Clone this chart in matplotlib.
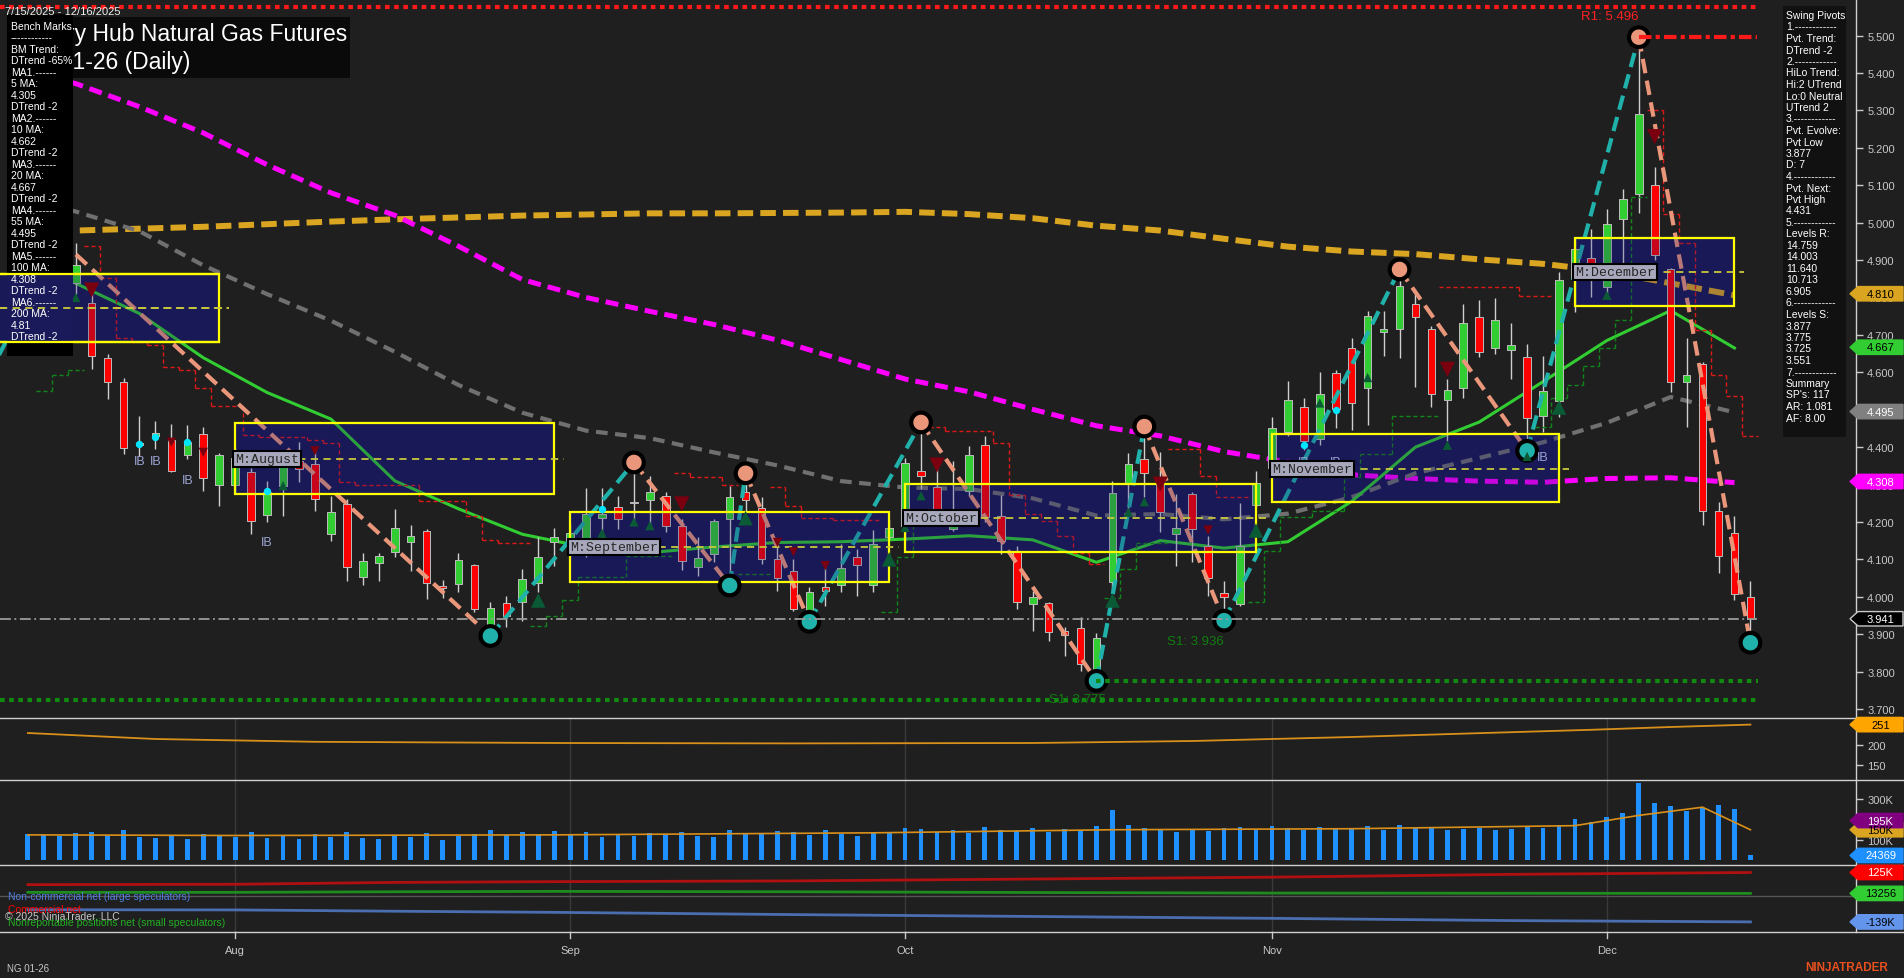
import numpy as np
import pandas as pd
import matplotlib
matplotlib.use("Agg")
import matplotlib.pyplot as plt
from matplotlib.patches import Rectangle, Polygon

plt.rcParams['font.family'] = ['Liberation Sans', 'DejaVu Sans']

# ------------------------------------------------------------------ data
dates = pd.bdate_range("2025-07-15", "2025-12-16", freq="C",
                       holidays=["2025-09-01", "2025-11-27"])
bar_x = np.arange(-3, -3 + len(dates))

opens = [4.700, 4.780, 4.880,
         4.839, 4.785, 4.637, 4.573, 4.405, 4.430, 4.420, 4.379, 4.435, 4.299,
         4.300, 4.334, 4.218, 4.297, 4.364, 4.355, 4.168, 4.248, 4.054, 4.090,
         4.120, 4.147, 4.175, 4.028, 4.034, 4.085, 3.922, 3.982, 3.987, 4.037,
         4.145, 4.135, 4.150, 4.210, 4.239, 4.250, 4.259, 4.268, 4.190, 4.079,
         4.114, 4.208, 4.279, 4.236, 4.101, 4.070, 3.965, 4.025, 4.031, 4.105,
         4.031, 4.159, 4.190, 4.337, 4.292, 4.181, 4.283, 4.406, 4.217, 4.119,
         3.980, 3.982, 3.909, 3.915, 3.807, 4.040, 4.301, 4.368, 4.319, 4.168,
         4.274, 4.136, 4.009, 3.980, 4.245, 4.345, 4.440, 4.506, 4.422, 4.598,
         4.665, 4.557, 4.709, 4.717, 4.783, 4.715, 4.526, 4.557, 4.748, 4.665,
         4.659, 4.640, 4.482, 4.524, 4.850, 4.905, 4.827, 5.009, 5.076, 5.101,
         4.875, 4.575, 4.622, 4.229, 4.170, 4.000]
highs = [4.800, 4.900, 4.955,
         4.946, 4.820, 4.649, 4.584, 4.484, 4.471, 4.462, 4.459, 4.455, 4.384,
         4.400, 4.343, 4.310, 4.364, 4.413, 4.395, 4.270, 4.261, 4.118, 4.118,
         4.234, 4.192, 4.181, 4.045, 4.117, 4.087, 3.985, 4.003, 4.074, 4.159,
         4.183, 4.195, 4.290, 4.290, 4.270, 4.359, 4.324, 4.279, 4.208, 4.159,
         4.209, 4.297, 4.328, 4.266, 4.150, 4.101, 4.027, 4.087, 4.141, 4.127,
         4.179, 4.204, 4.370, 4.466, 4.361, 4.364, 4.404, 4.429, 4.272, 4.136,
         4.016, 3.985, 3.918, 3.945, 3.903, 4.310, 4.384, 4.455, 4.386, 4.275,
         4.279, 4.161, 4.043, 4.250, 4.337, 4.480, 4.578, 4.532, 4.600, 4.605,
         4.693, 4.763, 4.763, 4.875, 4.816, 4.724, 4.583, 4.783, 4.792, 4.798,
         4.733, 4.675, 4.643, 4.868, 4.960, 4.984, 5.037, 5.089, 5.496, 5.150,
         4.880, 4.692, 4.628, 4.254, 4.217, 4.041]
lows = [4.660, 4.760, 4.820,
        4.809, 4.609, 4.529, 4.381, 4.377, 4.395, 4.333, 4.368, 4.283, 4.242,
        4.280, 4.168, 4.199, 4.215, 4.306, 4.230, 4.150, 4.043, 4.031, 4.043,
        4.105, 4.070, 3.994, 3.996, 4.012, 3.958, 3.895, 3.918, 3.936, 4.012,
        4.083, 4.110, 4.105, 4.115, 4.181, 4.200, 4.181, 4.172, 4.072, 4.056,
        4.092, 4.034, 4.226, 4.087, 4.016, 3.963, 3.933, 3.976, 4.012, 4.001,
        4.013, 4.154, 4.150, 4.288, 4.190, 4.177, 4.270, 4.199, 4.114, 3.967,
        3.909, 3.882, 3.842, 3.802, 3.775, 4.016, 4.225, 4.266, 4.172, 4.083,
        4.092, 4.003, 3.936, 3.976, 4.239, 4.337, 4.430, 4.392, 4.405, 4.452,
        4.446, 4.458, 4.643, 4.637, 4.560, 4.506, 4.416, 4.532, 4.640, 4.649,
        4.583, 4.390, 4.440, 4.480, 4.760, 4.800, 4.800, 4.862, 5.027, 4.900,
        4.548, 4.454, 4.193, 4.064, 3.990, 3.877]
closes = [4.780, 4.880, 4.840,
          4.887, 4.644, 4.573, 4.397, 4.412, 4.437, 4.337, 4.413, 4.317, 4.379,
          4.370, 4.202, 4.279, 4.355, 4.341, 4.261, 4.226, 4.079, 4.096, 4.110,
          4.185, 4.161, 4.036, 4.023, 4.098, 3.967, 3.969, 3.949, 4.047, 4.105,
          4.159, 4.170, 4.221, 4.222, 4.209, 4.253, 4.279, 4.190, 4.096, 4.103,
          4.203, 4.266, 4.259, 4.101, 4.050, 3.967, 4.013, 4.014, 4.076, 4.085,
          4.141, 4.183, 4.357, 4.322, 4.199, 4.208, 4.379, 4.212, 4.150, 3.985,
          3.998, 3.906, 3.898, 3.820, 3.889, 4.277, 4.355, 4.331, 4.226, 4.185,
          4.181, 4.049, 3.998, 4.136, 4.304, 4.450, 4.526, 4.416, 4.542, 4.502,
          4.518, 4.751, 4.715, 4.831, 4.748, 4.542, 4.554, 4.733, 4.655, 4.741,
          4.673, 4.478, 4.550, 4.848, 4.930, 4.849, 4.996, 5.064, 5.291, 4.913,
          4.573, 4.594, 4.229, 4.110, 4.008, 3.941]
volume_k = [130, 125, 120,
            135, 140, 120, 150, 115, 110, 125, 105, 130, 120,
            115, 140, 110, 120, 105, 130, 115, 140, 110, 105, 120, 115, 135, 100,
            120, 130, 150, 125, 140, 130, 145,
            125, 140, 115, 130, 120, 135, 125, 140, 120, 115, 150, 135, 130, 145,
            140, 125, 150, 130, 120, 140, 135,
            160, 155, 140, 150, 135, 165, 150, 145, 160, 140, 155, 150, 170, 245,
            175, 160, 150, 140, 155, 145, 160, 165, 150,
            170, 160, 150, 165, 155, 160, 170, 150, 175, 160, 165, 150, 155, 160,
            150, 155, 170, 160, 175,
            200, 190, 210, 230, 378, 280, 265, 240, 255, 270, 250, 24.369]

# x-axis month labels as placed on the chart (bar positions)
month_label_x = [10, 31, 52, 75, 96]
month_labels = ["Aug", "Sep", "Oct", "Nov", "Dec"]

# moving averages read at every 4th bar
ma_idx = list(range(-4, 105, 4))
ma200 = [4.965, 4.979, 4.984, 4.989, 4.996, 5.003, 5.009, 5.014, 5.019, 5.022,
         5.025, 5.025, 5.026, 5.027, 5.029, 5.023, 5.012, 4.992, 4.979, 4.957,
         4.936, 4.923, 4.916, 4.902, 4.890, 4.870, 4.838, 4.806]
ma100 = [5.410, 5.372, 5.310, 5.240, 5.155, 5.080, 5.020, 4.937, 4.848, 4.800,
         4.763, 4.728, 4.686, 4.634, 4.582, 4.548, 4.501, 4.457, 4.430, 4.388,
         4.360, 4.326, 4.316, 4.309, 4.306, 4.316, 4.318, 4.305]
ma55 = [5.070, 5.030, 4.977, 4.886, 4.809, 4.738, 4.655, 4.566, 4.492, 4.444,
        4.424, 4.386, 4.351, 4.309, 4.292, 4.288, 4.263, 4.217, 4.221, 4.207,
        4.222, 4.266, 4.330, 4.371, 4.413, 4.465, 4.534, 4.493]
ma20 = [np.nan, 4.838, 4.757, 4.639, 4.546, 4.475, 4.310, 4.235, 4.167, 4.132,
        4.118, 4.133, 4.145, 4.147, 4.154, 4.163, 4.152, 4.092, 4.150, 4.130,
        4.147, 4.255, 4.400, 4.467, 4.575, 4.685, 4.765, 4.665]

# swing pivots
piv_idx = [-6, -1, 26, 35, 41, 42, 46, 53, 64, 67, 72, 83, 91, 98, 105]
piv_val = [4.550, 4.955, 3.895, 4.359, 4.030, 4.330, 3.933, 4.466, 3.775,
           4.455, 3.936, 4.875, 4.390, 5.496, 3.877]

# monthly boxes
box_names = ["M:July", "M:August", "M:September", "M:October", "M:November", "M:December"]
box_first = [-10, 10, 31, 52, 75, 94]
box_last = [9, 30, 51, 74, 93, 104]
box_top = [4.863, 4.464, 4.226, 4.301, 4.434, 4.960]
box_bot = [4.680, 4.275, 4.038, 4.120, 4.252, 4.778]
box_mid = [4.772, 4.368, 4.134, 4.210, 4.341, 4.868]

# trailing stop steps (first bar, last bar, level)
red_from = [1, 2, 3, 4, 5, 6, 7, 8, 9, 11, 12, 15, 16, 17, 18, 22, 25, 26, 27,
            38, 39, 41, 44, 45, 46, 48, 54, 55, 58, 59, 60, 61, 62, 63, 64,
            69, 71, 72, 86, 91, 99, 100, 101, 102, 103, 104, 105]
red_to = [1, 2, 3, 4, 5, 6, 7, 8, 10, 11, 14, 15, 16, 17, 21, 24, 25, 26, 28,
          38, 40, 41, 44, 45, 47, 50, 54, 57, 58, 59, 60, 61, 62, 63, 64,
          70, 71, 73, 90, 92, 99, 100, 101, 102, 103, 104, 105]
red_lvl = [4.937, 4.851, 4.691, 4.680, 4.673, 4.613, 4.607, 4.557, 4.511, 4.432,
           4.428, 4.420, 4.410, 4.308, 4.299, 4.257, 4.215, 4.152, 4.144,
           4.330, 4.319, 4.299, 4.292, 4.242, 4.210, 4.206, 4.453, 4.444, 4.410,
           4.272, 4.221, 4.203, 4.161, 4.117, 4.087, 4.395, 4.324, 4.266,
           4.828, 4.804, 5.300, 5.024, 4.945, 4.712, 4.594, 4.536, 4.429]
grn_from = [-2, -1, 0, 29, 30, 31, 32, 35, 42, 51, 52, 53, 65, 66, 67, 74, 75,
            76, 78, 80, 81, 83, 92, 93, 94, 95, 96, 97, 98]
grn_to = [-2, -1, 0, 29, 30, 31, 34, 37, 43, 51, 52, 53, 65, 66, 68, 74, 75,
          77, 79, 80, 82, 85, 92, 93, 94, 95, 96, 97, 98]
grn_lvl = [4.549, 4.594, 4.607, 3.921, 3.948, 3.990, 4.054, 4.110, 4.062, 3.960,
           4.105, 4.199, 3.996, 4.074, 4.143, 3.987, 4.121, 4.213, 4.229, 4.321,
           4.381, 4.482, 4.455, 4.530, 4.566, 4.618, 4.665, 4.739, 5.068]

tri_up_idx = [0, 13, 29, 33, 35, 36, 42, 51, 52, 53, 65, 66, 67, 74, 78, 81, 86, 91, 93, 96]
tri_up_val = [4.800, 4.297, 3.990, 4.170, 4.200, 4.190, 4.210, 4.100, 4.185, 4.270,
              3.990, 4.226, 4.254, 4.177, 4.518, 4.586, 4.405, 4.375, 4.506, 4.806]
tri_up_big = [0, 0, 1, 0, 0, 0, 1, 1, 0, 0, 1, 0, 0, 1, 0, 0, 0, 0, 1, 0]
tri_dn_idx = [1, 6, 8, 15, 38, 44, 45, 47, 54, 68, 71, 86, 99]
tri_dn_val = [4.820, 4.413, 4.386, 4.390, 4.248, 4.145, 4.120, 4.083, 4.352, 4.301,
              4.178, 4.608, 5.230]
tri_dn_big = [1, 0, 0, 0, 1, 0, 0, 0, 1, 1, 0, 1, 1]
ib_idx = [4, 5, 7, 12, 77, 79, 92]
ib_val = [4.379, 4.379, 4.328, 4.161, 4.375, 4.375, 4.390]
dot_idx = [4, 5, 7, 12, 33, 77, 79]
dot_val = [4.407, 4.428, 4.413, 4.283, 4.234, 4.406, 4.498]

level_top = 5.577
level_r1 = 5.496
level_s1 = 3.775
level_s2 = 3.725
last_price = 3.941

ind_idx = [-3, 5, 15, 30, 45, 60, 70, 80, 90, 95, 100, 105]
ind_val = [230, 215, 208, 205, 204, 205, 210, 220, 232, 238, 245, 251]
vma_idx = [-3, 10, 30, 50, 65, 80, 94, 98, 102, 105]
vma_val = [125, 122, 125, 135, 150, 155, 170, 220, 260, 150]
cot_idx = [-3, 10, 20, 30, 45, 60, 75, 90, 105]
cot_comm = [60, 62, 72, 76, 80, 90, 100, 115, 125]
cot_small = [19, 19, 22, 24, 22, 18, 15, 14, 13.256]
cot_large = [-74, -75, -82, -88, -100, -110, -120, -132, -139]

bench_lines = ["Bench Marks", "------------", "BM Trend:", "DTrend -65%", "MA1.------",
               "5 MA:", "4.305", "DTrend -2", "MA2.------", "10 MA:", "4.662", "DTrend -2",
               "MA3.------", "20 MA:", "4.667", "DTrend -2", "MA4.------", "55 MA:", "4.495",
               "DTrend -2", "MA5.------", "100 MA:", "4.308", "DTrend -2", "MA6.------",
               "200 MA:", "4.81", "DTrend -2"]
swing_lines = ["Swing Pivots", "1.------------", "Pvt. Trend:", "DTrend -2", "2.------------",
               "HiLo Trend:", "Hi:2 UTrend", "Lo:0 Neutral", "UTrend 2", "3.------------",
               "Pvt. Evolve:", "Pvt Low", "3.877", "D: 7", "4.------------", "Pvt. Next:",
               "Pvt High", "4.431", "5.------------", "Levels R:", "14.759", "14.003",
               "11.640", "10.713", "6.905", "6.------------", "Levels S:", "3.877", "3.775",
               "3.725", "3.551", "7.------------", "Summary", "SP's: 117", "AR: 1.081",
               "AF: 8.00"]

# ------------------------------------------------------------------ figure
W, H = 1904, 979
BG = "#1f1f1f"
FG = "#c8c8c8"
AX_R = 1856
X_LEFT, X_RIGHT = -4.746, 111.62

fig = plt.figure(figsize=(W / 100, H / 100), dpi=100, facecolor=BG)


def F(x, y):
    return (x / W, 1 - y / H)


def panel(y0, y1):
    a = fig.add_axes([0, 1 - y1 / H, AX_R / W, (y1 - y0) / H])
    a.set_facecolor(BG)
    for s in a.spines.values():
        s.set_visible(False)
    a.set_xlim(X_LEFT, X_RIGHT)
    a.tick_params(axis='x', bottom=False, labelbottom=False)
    a.yaxis.tick_right()
    a.tick_params(axis='y', colors=FG, labelcolor=FG, labelsize=8, length=5,
                  width=1, pad=3, direction='out')
    return a


ax = panel(0, 719)
ax.set_ylim(3.6757, 5.5981)
ticks = np.round(np.arange(3.7, 5.51, 0.1), 1)
ax.set_yticks(ticks)
ax.set_yticklabels([f"{t:.3f}" for t in ticks])

ax2 = panel(719, 781)
ax2.set_ylim(112.5, 267.5)
ax2.set_yticks([150, 200])
ax3 = panel(781, 866)
ax3.set_ylim(-22, 392.7)
ax3.set_yticks([100, 300])
ax3.set_yticklabels(["100K", "300K"])
ax4 = panel(866, 933)
ax4.set_ylim(-193, 165)
ax4.set_yticks([])

o = np.array(opens); hi = np.array(highs); lo = np.array(lows); c = np.array(closes)
up = c >= o

# month boxes (base fill below price)
for i in range(len(box_names)):
    x0, x1 = box_first[i], box_last[i]
    ax.add_patch(Rectangle((x0, box_bot[i]), x1 - x0, box_top[i] - box_bot[i],
                           facecolor="#1a1950", edgecolor="none", zorder=1))

# moving averages
ax.plot(ma_idx, ma200, color="#DAA520", lw=4.3, dashes=(2.6, 1.2), zorder=2.5, solid_capstyle='butt')
ax.plot(ma_idx, ma100, color="#FF00FF", lw=3.6, dashes=(2.6, 1.4), zorder=2.5)
ax.plot(ma_idx, ma55, color="#707070", lw=3.0, dashes=(2.8, 1.8), zorder=2.5)
ax.plot(ma_idx, ma20, color="#32CD32", lw=2.2, zorder=2.5)

# candles
ax.vlines(bar_x, lo, hi, color="#d0d0d0", lw=1, zorder=3)
ax.bar(bar_x, np.maximum(np.abs(c - o), 0.004), bottom=np.minimum(o, c), width=0.48,
       color=["#32CD32" if u else "#FF0000" for u in up], edgecolor="#bdbdbd",
       linewidth=0.7, zorder=4)


def steps(fr, to, lv, col):
    for k in range(len(fr)):
        ax.hlines(lv[k], fr[k] - 0.5, to[k] + 0.5, color=col, lw=1, linestyles=(0, (3, 2)), zorder=3.5)
        if k + 1 < len(fr) and fr[k + 1] == to[k] + 1:
            ax.vlines(to[k] + 0.5, lv[k], lv[k + 1], color=col, lw=1, linestyles=(0, (3, 2)), zorder=3.5)


steps(red_from, red_to, red_lvl, "#e01818")
steps(grn_from, grn_to, grn_lvl, "#12861a")

# zigzag
for k in range(len(piv_idx) - 1):
    col = "#20B2AA" if piv_val[k + 1] > piv_val[k] else "#E9967A"
    ax.plot(piv_idx[k:k + 2], piv_val[k:k + 2], color=col, lw=3, dashes=(3.5, 1.8), zorder=5)

# month boxes overlay + edges
for i in range(len(box_names)):
    x0, x1 = box_first[i], box_last[i]
    ax.add_patch(Rectangle((x0, box_bot[i]), x1 - x0, box_top[i] - box_bot[i],
                           facecolor="#191970", alpha=0.24, edgecolor="none", zorder=6))
    ax.add_patch(Rectangle((x0, box_bot[i]), x1 - x0, box_top[i] - box_bot[i],
                           facecolor="none", edgecolor="#FFFF00", lw=1.6, zorder=6.2))
    ax.plot([x0, x1 + 0.6], [box_mid[i]] * 2, color="#c8c83c", lw=1.3, dashes=(4, 3), zorder=6.3)
    if i > 0:
        ax.text(x0, box_mid[i], box_names[i], family=["Liberation Mono", "DejaVu Sans Mono"],
                fontsize=9.5, color="#262626", ha="left", va="center", zorder=9,
                bbox=dict(boxstyle="square,pad=0.15", facecolor="#a8a8bc", edgecolor="black", lw=1.5))

# pivot circles
pc = ["#20B2AA" if (k > 0 and piv_val[k] < piv_val[k - 1]) else "#E9967A" for k in range(len(piv_idx))]
ax.scatter(piv_idx, piv_val, s=200, c=pc, edgecolors="black", linewidths=3, zorder=7)

# markers
ax.scatter(tri_up_idx, tri_up_val, marker="^", s=[110 if b else 45 for b in tri_up_big],
           color="#0b5a36", zorder=7.5, linewidths=0)
ax.scatter(tri_dn_idx, tri_dn_val, marker="v", s=[120 if b else 45 for b in tri_dn_big],
           color="#7a0010", zorder=7.5, linewidths=0)
ax.scatter(dot_idx, dot_val, s=28, color="#00e5ff", zorder=7.6, linewidths=0)
for xi, yi in zip(ib_idx, ib_val):
    ax.text(xi, yi, "IB", color="#9aa4d0", fontsize=9, ha="center", va="top", zorder=7.6)

# levels
ax.plot([X_LEFT, 105.5], [level_top] * 2, color="#ff1a1a", lw=3, dashes=(1.1, 1.1), zorder=7.4)
ax.plot([98, 105.4], [level_r1] * 2, color="#ff1a1a", lw=3, dashes=(3, 1, 1, 1), zorder=7.4)
ax.plot([64, 105.5], [level_s1] * 2, color="#118a11", lw=3, dashes=(1.1, 1.1), zorder=7.4)
ax.plot([X_LEFT, 105.5], [level_s2] * 2, color="#118a11", lw=3, dashes=(1.1, 1.1), zorder=7.4)
ax.plot([X_LEFT, 105.4], [last_price] * 2, color="#9a9a9a", lw=1.3, dashes=(6, 2, 1, 2), zorder=7.3)
ax.text(98, 5.5516, "R1: 5.496", color="#ff2020", fontsize=9.5, ha="right", va="center", zorder=8)
ax.text(72, 3.882, "S1: 3.936", color="#0f7f0f", fontsize=9.5, ha="right", va="center", zorder=8)
ax.text(64.6, 3.726, "S1: 3.775", color="#0f7f0f", fontsize=9.5, ha="right", va="center", zorder=7.2)

# title, bench marks, swing pivots boxes (drawn in figure coordinates inside the price panel)
TF = fig.transFigure


def box_px(x0, y0, x1, y1, fc, z):
    ax.add_patch(Rectangle(F(x0, y1), (x1 - x0) / W, (y1 - y0) / H, transform=TF,
                           facecolor=fc, edgecolor="none", zorder=z, clip_on=False))


def text_px(x, y, s, z=22, **kw):
    return ax.text(x / W, 1 - y / H, s, transform=TF, zorder=z, clip_on=False, **kw)


box_px(72, 18, 350, 79, "#0a0a0a", 10)
text_px(347, 34, "Henry Hub Natural Gas Futures", z=11, color="white", fontsize=16.5,
        ha="right", va="center")
text_px(190, 63, "NG 01-26 (Daily)", z=11, color="white", fontsize=16.5, ha="right", va="center")

box_px(7, 15, 73, 357, "#000000", 20)
# July box re-drawn over the bench-mark panel
jy0 = H - ax.transData.transform((0, box_top[0]))[1]
jy1 = H - ax.transData.transform((0, box_bot[0]))[1]
box_px(7, jy0, 73, jy1, "#1a1a5a", 20.5)
ax.plot([X_LEFT, box_last[0]], [box_top[0]] * 2, color="#FFFF00", lw=1.6, zorder=20.6)
ax.plot([X_LEFT, box_last[0]], [box_bot[0]] * 2, color="#FFFF00", lw=1.6, zorder=20.6)
ax.plot([X_LEFT, box_last[0] + 0.6], [box_mid[0]] * 2, color="#c8c83c", lw=1.3, dashes=(4, 3), zorder=20.6)
for k, s in enumerate(bench_lines):
    text_px(11, 26.7 + 11.5 * k, s, color="white", fontsize=7.5, ha="left", va="center")

box_px(1783, 7, 1846, 438, "#111111", 20)
for k, s in enumerate(swing_lines):
    text_px(1786, 16 + 11.5 * k, s, color="white", fontsize=7.5, ha="left", va="center")

text_px(5, 12, "7/15/2025 - 12/16/2025", z=23, color="#f0f0f0", fontsize=8, ha="left", va="center")

# indicator panel
ax2.plot(ind_idx, ind_val, color="#d9901a", lw=1.3)

# volume panel
ax3.bar(bar_x, volume_k, width=0.3, color="#1E90FF", zorder=2)
ax3.plot(vma_idx, vma_val, color="#d9901a", lw=1.2, zorder=3)

# COT panel
ax4.axhline(0, color="#555555", lw=1, zorder=1)
ax4.plot(cot_idx, cot_comm, color="#b01010", lw=2, zorder=2)
ax4.plot(cot_idx, cot_small, color="#1e8c1e", lw=2, zorder=2)
ax4.plot(cot_idx, cot_large, color="#4a6eb0", lw=2, zorder=2)
fig.text(*F(8, 897), "Non-commercial net (large speculators)", color="#4f7fe0", fontsize=7.5, va="center")
fig.text(*F(8, 910), "Commercial net", color="#ff0000", fontsize=7.5, va="center")
fig.text(*F(5, 917), "\u00a9 2025 NinjaTrader, LLC", color="#c8c8c8", fontsize=7.5, va="center")
fig.text(*F(8, 923), "Nonreportable positions net (small speculators)", color="#22b022", fontsize=7.5, va="center")

# month grid / labels
for xv, lab in zip(month_label_x, month_labels):
    for a in (ax2, ax3, ax4):
        a.axvline(xv, color="#3a3a3a", lw=1, zorder=0.5)
    xp = ax.transData.transform((xv, 4))[0]
    fig.add_artist(plt.Line2D([xp / W] * 2, [1 - 933 / H, 1 - 939 / H], transform=TF, color=FG, lw=1))
    fig.text(*F(xp, 951), lab, color=FG, fontsize=8, ha="center", va="center")

# separators and right axis line
for yy in (719, 781, 866, 933):
    fig.add_artist(plt.Line2D([0, 1], [1 - yy / H] * 2, transform=TF, color="#d0d0d0", lw=1))
fig.add_artist(plt.Line2D([AX_R / W] * 2, [1 - 933 / H, 1], transform=TF, color="#d0d0d0", lw=1))

fig.text(*F(7, 969), "NG 01-26", color=FG, fontsize=7, va="center")
fig.text(*F(1888, 968), "NINJATRADER", color="#e8501e", fontsize=8.5, weight="bold", ha="right", va="center")


# value tags on right axis
def tag(axis, val, text, fc, tc, ec=None):
    py = H - axis.transData.transform((0, val))[1]
    x0, x1, hh = 1850, 1903, 7.2
    pts = [(x0, py), (x0 + 8, py - hh), (x1, py - hh), (x1, py + hh), (x0 + 8, py + hh)]
    fig.add_artist(Polygon([F(x, y) for x, y in pts], closed=True, transform=TF,
                           facecolor=fc, edgecolor=ec or fc, lw=1, zorder=50))
    fig.text(*F((x0 + 8 + x1) / 2, py), text, color=tc, fontsize=8, ha="center", va="center", zorder=51)


tag(ax, ma200[-1] + 0.004, "4.810", "#DAA520", "black")
tag(ax, 4.667, "4.667", "#32CD32", "black")
tag(ax, ma55[-1] + 0.002, "4.495", "#808080", "white")
tag(ax, 4.308, "4.308", "#FF00FF", "white")
tag(ax, last_price, "3.941", "black", "white", ec="#c8c8c8")
tag(ax2, ind_val[-1], "251", "#FFA500", "black")
tag(ax3, 150, "150K", "#DAA520", "black")
tag(ax3, 195, "195K", "#800080", "white")
tag(ax3, volume_k[-1], "24369", "#1E90FF", "white")
tag(ax4, cot_comm[-1], "125K", "#FF0000", "white")
tag(ax4, cot_small[-1], "13256", "#32CD32", "black")
tag(ax4, cot_large[-1], "-139K", "#6495ED", "black")

fig.savefig("out.png", dpi=100, facecolor=BG)
